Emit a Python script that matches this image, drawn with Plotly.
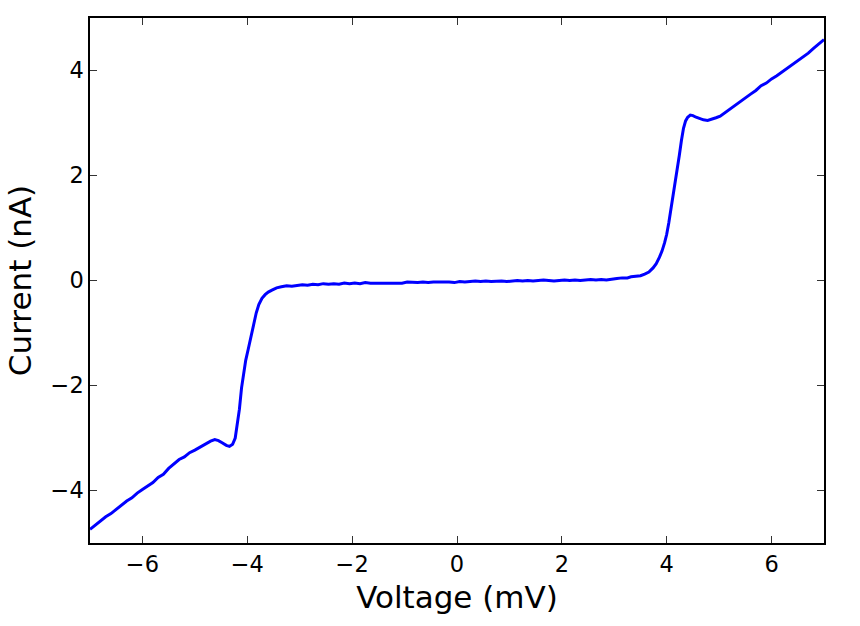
import plotly.graph_objects as go

voltage_mV = [
    -7.0, -6.9, -6.8, -6.7, -6.6, -6.5, -6.4, -6.3, -6.2, -6.1, -6.0, -5.9, -5.8, -5.7, -5.6,
    -5.5, -5.4, -5.3, -5.2, -5.1, -5.0, -4.9, -4.8, -4.7, -4.62, -4.55, -4.48, -4.40, -4.34,
    -4.28, -4.23, -4.19, -4.15, -4.11, -4.07, -4.03, -3.98, -3.93, -3.88, -3.83, -3.78, -3.72,
    -3.66, -3.60, -3.52, -3.44, -3.35, -3.25, -3.15, -3.05, -2.95, -2.85, -2.75, -2.65, -2.55,
    -2.45, -2.35, -2.25, -2.15, -2.05, -1.95, -1.85, -1.75, -1.65, -1.55, -1.45, -1.35, -1.25,
    -1.15, -1.05, -0.95, -0.85, -0.75, -0.65, -0.55, -0.45, -0.35, -0.25, -0.15, -0.05, 0.05,
    0.15, 0.25, 0.35, 0.45, 0.55, 0.65, 0.75, 0.85, 0.95, 1.05, 1.15, 1.25, 1.35, 1.45, 1.55,
    1.65, 1.75, 1.85, 1.95, 2.05, 2.15, 2.25, 2.35, 2.45, 2.55, 2.65, 2.75, 2.85, 2.95, 3.05,
    3.15, 3.25, 3.32, 3.4, 3.5, 3.58, 3.66, 3.74, 3.80, 3.86, 3.91, 3.96, 4.00, 4.04, 4.08,
    4.12, 4.16, 4.20, 4.24, 4.28, 4.32, 4.36, 4.40, 4.45, 4.50, 4.56, 4.63, 4.70, 4.78, 4.86,
    4.94, 5.02, 5.1, 5.2, 5.3, 5.4, 5.5, 5.6, 5.7, 5.8, 5.9, 6.0, 6.1, 6.2, 6.3, 6.4, 6.5,
    6.6, 6.7, 6.8, 6.9, 7.0,
]

current_nA = [
    -4.74, -4.66, -4.59, -4.50, -4.44, -4.36, -4.29, -4.20, -4.14, -4.05, -3.98, -3.91, -3.85, -3.75, -3.69,
    -3.58, -3.50, -3.41, -3.36, -3.28, -3.23, -3.17, -3.12, -3.06, -3.03, -3.05, -3.09, -3.14, -3.16,
    -3.12, -3.00, -2.75, -2.45, -2.05, -1.75, -1.52, -1.30, -1.05, -0.82, -0.62, -0.46, -0.34,
    -0.27, -0.22, -0.18, -0.14, -0.12, -0.10, -0.11, -0.09, -0.08, -0.09, -0.07, -0.08, -0.06,
    -0.07, -0.06, -0.07, -0.05, -0.06, -0.05, -0.06, -0.04, -0.05, -0.05, -0.04, -0.05, -0.04,
    -0.04, -0.05, -0.03, -0.04, -0.04, -0.03, -0.04, -0.03, -0.03, -0.02, -0.03, -0.04, -0.02,
    -0.03, -0.02, -0.01, -0.02, -0.01, -0.02, -0.01, -0.01, -0.02, -0.01, 0.00, -0.01, 0.00, -0.01, 0.00,
    0.01, 0.00, -0.01, 0.00, 0.01, 0.00, 0.01, 0.00, 0.01, 0.02, 0.01, 0.02, 0.01, 0.03, 0.04,
    0.05, 0.05, 0.07, 0.08, 0.09, 0.12, 0.16, 0.24, 0.32, 0.44, 0.56, 0.72, 0.88, 1.10, 1.34,
    1.58, 1.85, 2.10, 2.38, 2.66, 2.90, 3.04, 3.11, 3.15, 3.14, 3.11, 3.08, 3.06, 3.05, 3.07,
    3.10, 3.13, 3.19, 3.26, 3.33, 3.41, 3.48, 3.55, 3.62, 3.71, 3.76, 3.84, 3.90, 3.97, 4.04, 4.11, 4.19,
    4.26, 4.33, 4.42, 4.50, 4.59,
]

x_ticks = [-6, -4, -2, 0, 2, 4, 6]
x_tick_labels = ["\u22126", "\u22124", "\u22122", "0", "2", "4", "6"]
y_ticks = [-4, -2, 0, 2, 4]
y_tick_labels = ["\u22124", "\u22122", "0", "2", "4"]

fig = go.Figure()
fig.add_trace(go.Scatter(
    x=voltage_mV, y=current_nA, mode="lines",
    line=dict(color="#0000ff", width=3), showlegend=False,
))

axis_common = dict(
    showline=True, linecolor="black", linewidth=1.5, mirror="ticks",
    ticks="inside", ticklen=7, tickwidth=1, tickcolor="#333333",
    showgrid=False, zeroline=False,
    tickfont=dict(family="DejaVu Sans", size=22.5, color="black"),
)

fig.update_layout(
    width=860, height=626,
    margin=dict(l=90, r=36, t=18, b=83),
    paper_bgcolor="white", plot_bgcolor="white",
    font=dict(family="DejaVu Sans", color="black"),
    xaxis=dict(
        range=[-7, 7], tickvals=x_ticks, ticktext=x_tick_labels,
        title=dict(text="Voltage (mV)", font=dict(family="DejaVu Sans", size=31), standoff=11),
        **axis_common,
    ),
    yaxis=dict(
        range=[-5, 5], tickvals=y_ticks, ticktext=y_tick_labels,
        title=dict(text="Current (nA)", font=dict(family="DejaVu Sans", size=31), standoff=10),
        **axis_common,
    ),
)

fig.write_html("out.html")
